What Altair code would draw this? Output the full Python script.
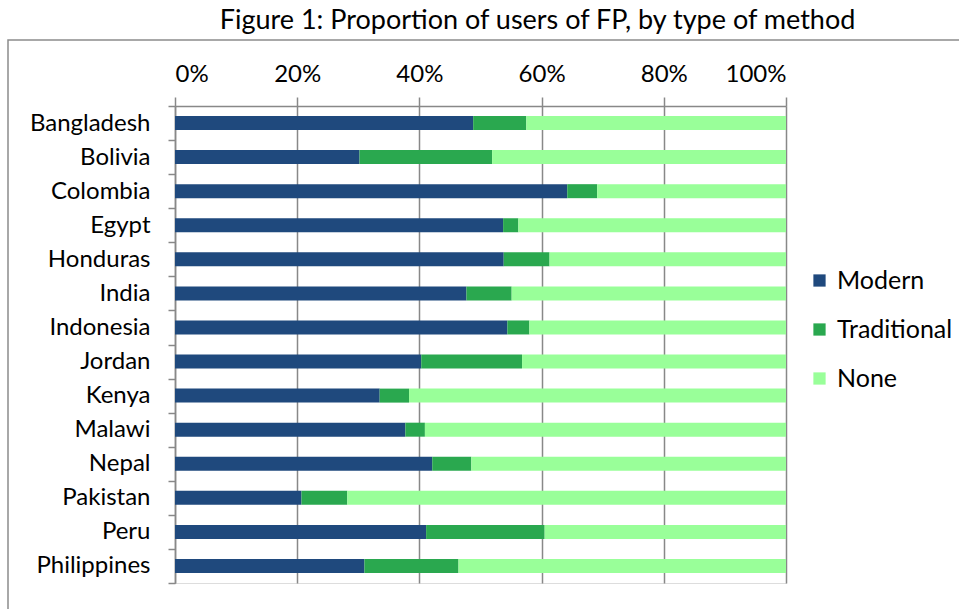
import altair as alt
import pandas as pd

countries = ["Bangladesh", "Bolivia", "Colombia", "Egypt", "Honduras", "India",
             "Indonesia", "Jordan", "Kenya", "Malawi", "Nepal", "Pakistan",
             "Peru", "Philippines"]
modern = [48.8, 30.2, 64.2, 53.7, 53.8, 47.7, 54.4, 40.3, 33.5, 37.7, 42.1, 20.7, 41.1, 31.0]
traditional = [8.7, 21.7, 4.9, 2.5, 7.5, 7.4, 3.6, 16.5, 4.8, 3.2, 6.4, 7.5, 19.4, 15.4]
none = [round(100 - m - t, 1) for m, t in zip(modern, traditional)]

methods = ["Modern", "Traditional", "None"]
colors = ["#1F497D", "#2AA84F", "#99FF99"]

rows = []
for i, c in enumerate(countries):
    for j, (name, vals) in enumerate(zip(methods, [modern, traditional, none])):
        rows.append({"country": c, "method": name, "value": vals[i], "order": j})
df = pd.DataFrame(rows)

FONT = "Lato"

frame = alt.Chart(alt.Data(values=[{"a": 1}])).mark_rect(
    fill="transparent", stroke="#8C8C8C", strokeWidth=1.5
).encode(
    x=alt.value(-167), x2=alt.value(1000), y=alt.value(-66), y2=alt.value(800)
)

bars = alt.Chart(df).mark_bar(size=14).encode(
    y=alt.Y("country:N", sort=countries,
            scale=alt.Scale(paddingInner=0, paddingOuter=0),
            axis=alt.Axis(title=None, tickBand="extent", labelFontSize=24,
                          labelFont=FONT, labelColor="black", labelPadding=18,
                          tickSize=7, tickColor="#888888", domainColor="#888888",
                          tickWidth=1.5, domainWidth=1.5, grid=False)),
    x=alt.X("value:Q", stack="normalize",
            scale=alt.Scale(domain=[0, 1], nice=False),
            axis=alt.Axis(title=None, orient="top", format="%", values=[0, 0.2, 0.4, 0.6, 0.8, 1.0],
                          labelFontSize=24, labelFont=FONT, labelColor="black",
                          tickSize=9, labelPadding=11, tickColor="#888888",
                          domainColor="#888888", gridColor="#888888", grid=True,
                          tickWidth=1.5, domainWidth=1.5, gridWidth=1.5)),
    color=alt.Color("method:N", sort=methods,
                    scale=alt.Scale(domain=methods, range=colors),
                    legend=alt.Legend(title=None, orient="none", legendX=632, legendY=162,
                                      symbolType="square", symbolSize=150,
                                      symbolStrokeWidth=0, labelFontSize=25,
                                      labelFont=FONT, labelColor="black",
                                      rowPadding=23, labelOffset=5)),
    order=alt.Order("order:Q"),
)

chart = alt.layer(frame, bars).properties(
    width=611, height=477,
    title=alt.TitleParams("Figure 1: Proportion of users of FP, by type of method",
                          font=FONT, fontSize=27, fontWeight="normal", color="black",
                          anchor="middle", dx=57, offset=4),
    autosize=alt.AutoSizeParams(type="none"),
    padding={"left": 175, "top": 106, "right": 173, "bottom": 26},
).configure_view(stroke=None).configure(background="white")

chart.save("out.html", embed_options={"renderer": "svg", "actions": False})
